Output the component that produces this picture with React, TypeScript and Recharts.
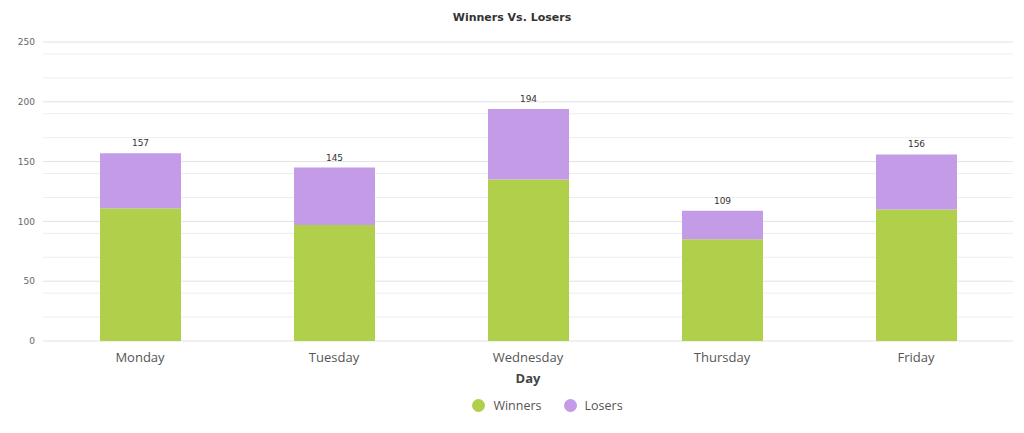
import { BarChart, Bar, XAxis, YAxis, CartesianGrid, Legend, LabelList } from 'recharts';

const DAYS = ['Monday', 'Tuesday', 'Wednesday', 'Thursday', 'Friday'];
const WINNERS = [111, 97, 135, 85, 110];
const LOSERS = [46, 48, 59, 24, 46];
const Y_TICKS = [0, 50, 100, 150, 200, 250];
const MINOR_TICKS = [10, 20, 30, 40, 60, 70, 80, 90, 110, 120, 130, 140, 160, 170, 180, 190, 210, 220, 230, 240];

const GREEN = '#b0cf4a';
const PURPLE = '#c39be6';

const data = DAYS.map((day, i) => ({
  day,
  winners: WINNERS[i],
  losers: LOSERS[i],
  total: WINNERS[i] + LOSERS[i],
}));

function LegendContent() {
  const items = [
    { name: 'Winners', color: GREEN },
    { name: 'Losers', color: PURPLE },
  ];
  return (
    <div
      style={{
        position: 'relative',
        top: 10,
        display: 'flex',
        justifyContent: 'center',
        gap: 22,
        paddingLeft: 82,
        fontFamily: 'Open Sans',
        fontSize: 12.5,
        color: '#555',
      }}
    >
      {items.map((it) => (
        <div key={it.name} style={{ display: 'flex', alignItems: 'center', gap: 8 }}>
          <span style={{ width: 13, height: 13, borderRadius: '50%', background: it.color, display: 'inline-block' }} />
          <span>{it.name}</span>
        </div>
      ))}
    </div>
  );
}

export default function App() {
  return (
    <div style={{ position: 'absolute', left: 0, top: 0, width: 1024, height: 433, background: '#fff' }}>
      <div
        style={{
          position: 'absolute',
          top: 11,
          width: 1024,
          textAlign: 'center',
          fontFamily: 'DejaVu Sans',
          fontWeight: 'bold',
          fontSize: 11,
          color: '#333',
        }}
      >
        Winners Vs. Losers
      </div>
      <BarChart width={1024} height={433} data={data} margin={{ top: 42, right: 11, left: 0, bottom: 29 }}>
        <CartesianGrid vertical={false} stroke="#ededed" horizontalValues={MINOR_TICKS} />
        <CartesianGrid vertical={false} stroke="#e2e2e2" />
        <XAxis
          dataKey="day"
          axisLine={false}
          tickLine={false}
          height={46}
          tick={{ fontFamily: 'Open Sans', fontSize: 13, fill: '#555' }}
          dy={4}
          label={{ value: 'Day', position: 'insideBottom', offset: 4, fontFamily: 'Open Sans', fontWeight: 'bold', fontSize: 13, fill: '#444' }}
        />
        <YAxis
          width={43}
          domain={[0, 250]}
          ticks={Y_TICKS}
          axisLine={false}
          tickLine={false}
          tick={{ fontFamily: 'DejaVu Sans', fontSize: 9, fill: '#666' }}
        />
        <Legend verticalAlign="bottom" content={<LegendContent />} />
        <Bar dataKey="winners" name="Winners" stackId="a" fill={GREEN} barSize={81} isAnimationActive={false} />
        <Bar dataKey="losers" name="Losers" stackId="a" fill={PURPLE} barSize={81} isAnimationActive={false}>
          <LabelList dataKey="total" position="top" offset={7} style={{ fontFamily: 'DejaVu Sans', fontSize: 9, fill: '#333' }} />
        </Bar>
      </BarChart>
    </div>
  );
}
